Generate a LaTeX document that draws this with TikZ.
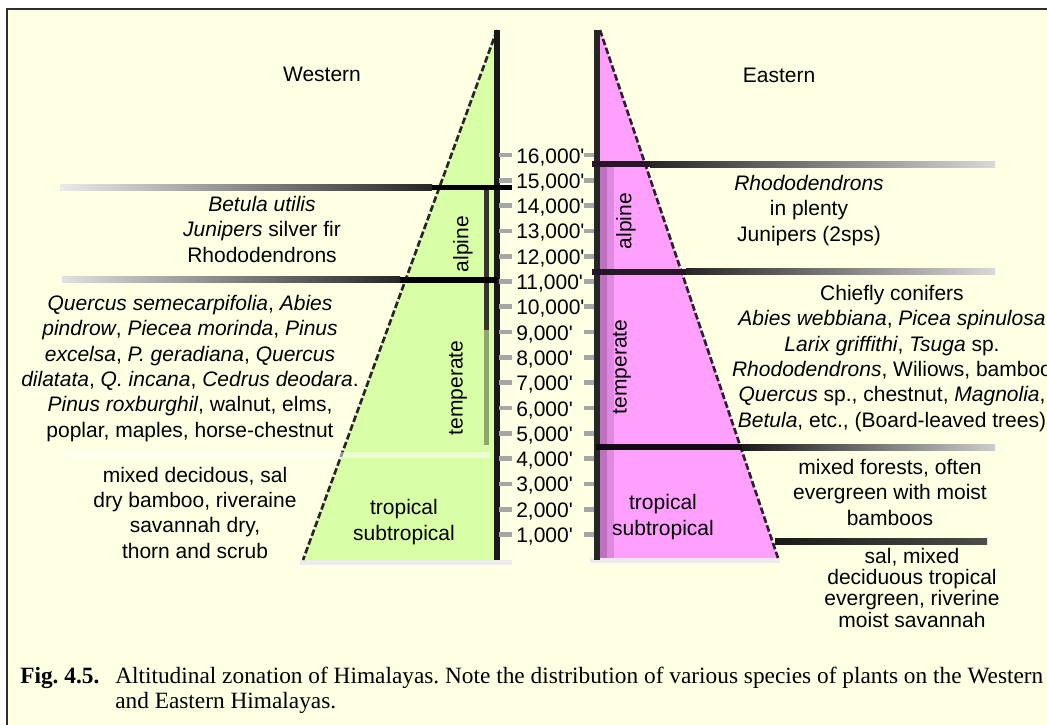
\documentclass[tikz,border=0pt]{standalone}
\usepackage{fontspec}
\setmainfont{Liberation Sans}
\newfontfamily\capfont{Liberation Serif}
\usetikzlibrary{positioning}
\definecolor{pcream}{HTML}{FFFFE4}
\definecolor{wgreen}{HTML}{D9FFA6}
\definecolor{epink}{HTML}{FFA0FF}
\definecolor{epurple}{HTML}{C070C0}
\definecolor{pframe}{HTML}{2E2E2E}
\newcommand{\lbsize}{\fontsize{15.75}{19}\selectfont}
\newcommand{\lbsizeb}{\fontsize{15.75}{16}\selectfont}
\newcommand{\capsize}{\capfont\fontsize{17.5}{18.75}\selectfont\frenchspacing}
\newcommand{\ft}{\textquotesingle}

\begin{document}
\begin{tikzpicture}[x=0.75pt,y=-0.75pt,
  lbl/.style={font=\lbsize,align=center,inner sep=0pt,anchor=base},
  zonelbl/.style={font=\lbsize,inner sep=0pt,rotate=90},
  altlbl/.style={font=\lbsize,inner sep=0pt,anchor=base west},
  alttick/.style={black!35,line width=3.5pt},
  slope/.style={black!85,line width=2pt,dash pattern=on 5pt off 2pt}
]
\useasboundingbox (0,0) rectangle (1047,725);
\clip (0,0) rectangle (1047,725);
\fill[white] (0,0) rectangle (1047,725);
\fill[pcream] (7,9) rectangle (1047,725);
\draw[pframe,line width=1.2pt] (7,725) -- (7,9) -- (1047,9);

\fill[wgreen] (497,30) -- (497,560) -- (303,560) -- cycle;
\fill[black!8] (300,560) rectangle (512,565);
\fill[black!80!olive] (484,190) rectangle (489,330);
\fill[black!35!wgreen] (484,330) rectangle (489,445);
\draw[slope] (497,30) -- (303,560);
\draw[black!90,line width=3.8pt] (497,30) -- (497,560);

\fill[epink] (600,30) -- (778,558) -- (600,558) -- cycle;
\fill[black!8] (590,558) rectangle (780,563);
\fill[epurple] (600,165) rectangle (607,558);
\fill[epurple!50!epink] (607,165) rectangle (614,558);
\draw[slope] (600,30) -- (778,558);
\draw[black!85,line width=3.8pt] (597,30) -- (597,560);

\shade[left color=black!8,right color=black!85] (60,184.5) rectangle (432,190);
\fill[black] (432,184.5) rectangle (512,190);
\shade[left color=black!12,right color=black!85] (62,276.5) rectangle (400,282.5);
\fill[black] (400,276.5) rectangle (497,282.5);
\fill[white,opacity=0.5] (62,452) rectangle (490,458);

\fill[black!80!epurple] (592,161) rectangle (650,167);
\shade[left color=black!85,right color=black!15] (650,161) rectangle (995,167);
\fill[black!80!epurple] (592,268.5) rectangle (686,274.5);
\shade[left color=black!85,right color=black!15] (686,268.5) rectangle (995,274.5);
\fill[black!90!epurple] (596,444) rectangle (742,450);
\shade[left color=black!90,right color=black!20] (742,444) rectangle (995,450);
\shade[left color=black!90,right color=black!70] (775,538) rectangle (987,544);

\foreach \k in {1,...,16}{
  \draw[alttick] (499,{155+(16-\k)*25.3}) -- (512,{155+(16-\k)*25.3});
  \draw[alttick] (584,{155+(16-\k)*25.3}) -- (594,{155+(16-\k)*25.3});
  \node[altlbl] (alt\k) at (516,{163+(16-\k)*25.3}) {\k,000\ft};
}

\node[lbl] (west) at (322,81) {Western};
\node[lbl] (east) at (779,82) {Eastern};

\node[lbl] (walp) at (262,262) {\textit{Betula utilis}\\\textit{Junipers} silver fir\\Rhododendrons};
\node[lbl] (wtemp) at (190,437) {\textit{Quercus semecarpifolia}, \textit{Abies}\\\textit{pindrow}, \textit{Piecea morinda}, \textit{Pinus}\\\textit{excelsa}, \textit{P. geradiana}, \textit{Quercus}\\\textit{dilatata}, \textit{Q. incana}, \textit{Cedrus deodara}.\\\textit{Pinus roxburghil}, walnut, elms,\\poplar, maples, horse-chestnut};
\node[lbl] (wtrop) at (195,558) {mixed decidous, sal\\dry bamboo, riveraine\\savannah dry,\\thorn and scrub};
\node[zonelbl] (walpz) at (463,244) {alpine};
\node[zonelbl] (wtempz) at (458,388) {temperate};
\node[lbl] (wtropz) at (404,540) {tropical\\subtropical};

\node[lbl] (ealp) at (809,241) {\textit{Rhododendrons}\\in plenty\\Junipers (2sps)};
\node[lbl] (etemp) at (892,427) {Chiefly conifers\\\textit{Abies webbiana}, \textit{Picea spinulosa}\\\textit{Larix griffithi}, \textit{Tsuga} sp.\\\textit{Rhododendrons}, Wiliows, bamboo\\\textit{Quercus} sp., chestnut, \textit{Magnolia},\\\textit{Betula}, etc., (Board-leaved trees)};
\node[lbl] (etrop) at (890,525) {mixed forests, often\\evergreen with moist\\bamboos};
\node[lbl,font=\lbsizeb] (elow) at (912,627) {sal, mixed\\deciduous tropical\\evergreen, riverine\\moist savannah};
\node[zonelbl] (ealpz) at (626,221) {alpine};
\node[zonelbl] (etempz) at (622,367) {temperate};
\node[lbl] (etropz) at (663,535) {tropical\\subtropical};

\node[anchor=base west,inner sep=0pt,font=\capsize\bfseries] (fig) at (20,683) {Fig. 4.5.};
\node[anchor=base west,inner sep=0pt,font=\capsize,align=left] (cap) at (115,708) {Altitudinal zonation of Himalayas. Note the distribution of various species of plants on the Western\\and Eastern Himalayas.};
\end{tikzpicture}
\end{document}
